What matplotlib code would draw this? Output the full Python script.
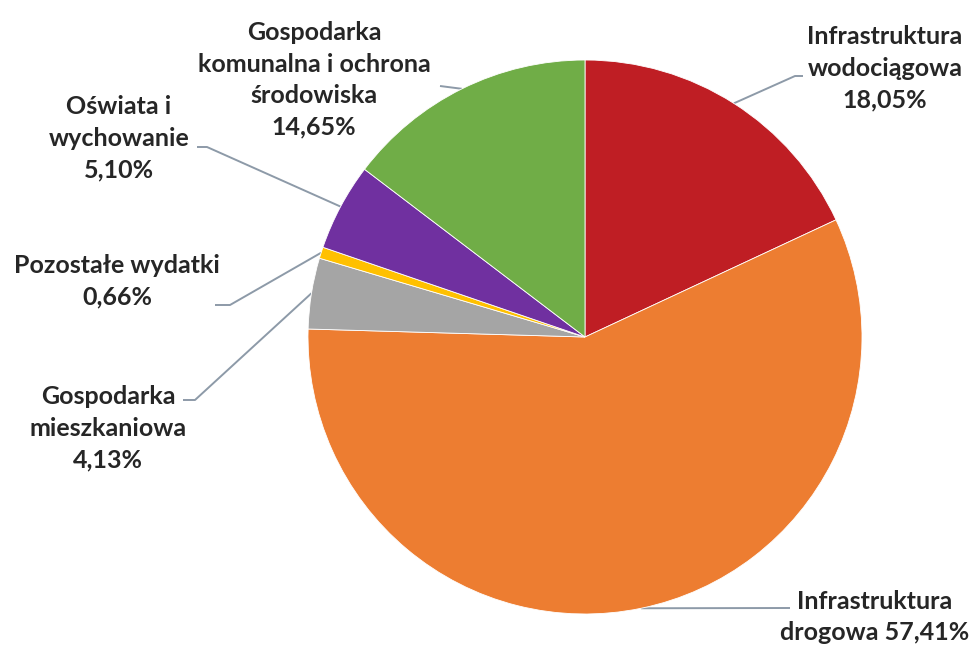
import numpy as np
import matplotlib.pyplot as plt

labels = ["Infrastruktura\nwodociągowa\n18,05%",
          "Infrastruktura\ndrogowa 57,41%",
          "Gospodarka\nmieszkaniowa\n4,13%",
          "Pozostałe wydatki\n0,66%",
          "Oświata i\nwychowanie\n5,10%",
          "Gospodarka\nkomunalna i ochrona\nśrodowiska\n14,65%"]
shares = [18.05, 57.41, 4.13, 0.66, 5.10, 14.65]
colors = ["#BF1E24", "#ED7D31", "#A5A5A5", "#FFC000", "#7030A0", "#70AD47"]

W, H = 975, 645
# label placement in image pixels: text centre, elbow point, line end
label_xy = [(885, 68), (875, 617), (108, 428), (117, 281), (119, 138), (314, 80)]
elbows = [(795, 76), (790, 608), (195, 400), (230, 305), (207, 147), (440, 86)]
ends = [(803, 76), (790, 608), (183, 400), (215, 305), (197, 147), (440, 86)]

fig = plt.figure(figsize=(W / 100, H / 100), dpi=100)
ax = fig.add_axes([0, 0, 1, 1])

cx, cy, r = 585, H - 337, 277
wedges, _ = ax.pie(shares, colors=colors, startangle=90, counterclock=False,
                   center=(cx, cy), radius=r,
                   wedgeprops=dict(edgecolor="white", linewidth=0.6))
ax.set_xlim(0, W)
ax.set_ylim(0, H)
ax.set_aspect("equal")
ax.axis("off")

line_col = "#8D9AA8"
for w, lab, (tx, ty), (ex, ey), (fx, fy) in zip(wedges, labels, label_xy, elbows, ends):
    mid = np.deg2rad((w.theta1 + w.theta2) / 2)
    px, py = cx + r * np.cos(mid), cy + r * np.sin(mid)
    ax.plot([px, ex, fx], [py, H - ey, H - fy], color=line_col, lw=1.4,
            solid_capstyle="butt", zorder=0)
    ax.text(tx, H - ty, lab, ha="center", va="center", fontsize=18,
            fontweight="bold", family="Lato", color="#262626", linespacing=1.45)

fig.savefig("out.png", dpi=100)
